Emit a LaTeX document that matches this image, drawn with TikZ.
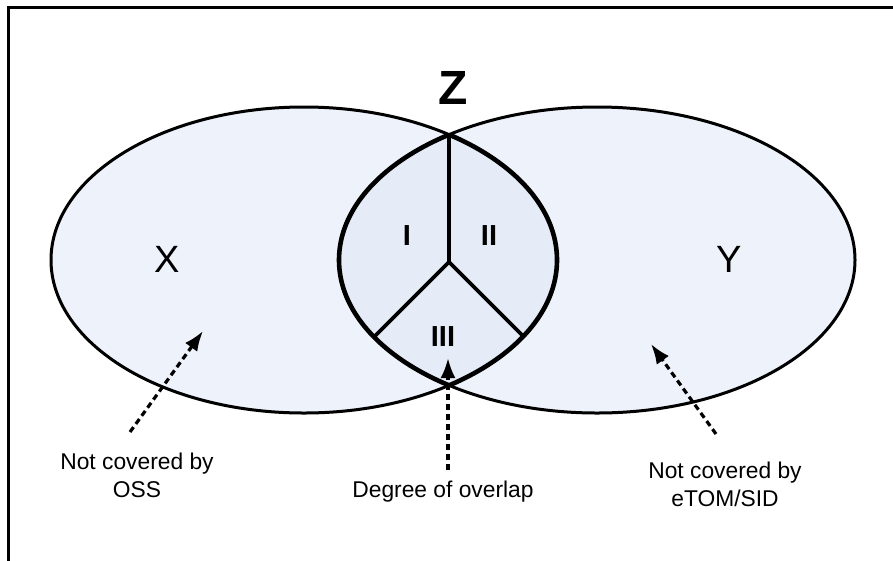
\documentclass[tikz,border=0pt]{standalone}
\usepackage{fontspec}
\setmainfont{Liberation Sans}
\usetikzlibrary{positioning, arrows.meta}
\definecolor{mengeblau}{HTML}{EEF2FA}
\definecolor{schnittblau}{HTML}{E6ECF7}

\begin{document}
\begin{tikzpicture}[x=1pt, y=-1pt, >={Latex[length=20pt, width=15pt]},
    umriss/.style={line width=3pt},
    schnitt/.style={line width=4.6pt},
    teiler/.style={line width=3.6pt},
    hinweis/.style={->, line width=3.2pt, dash pattern=on 6pt off 4pt},
    zahl/.style={font=\fontsize{29}{32}\selectfont\bfseries},
    menge/.style={font=\fontsize{38}{40}\selectfont},
    erklaerung/.style={font=\fontsize{22.8}{28}\selectfont, align=center}]

    \useasboundingbox (0,0) rectangle (893,560);

    % Rahmen (rechts und unten abgeschnitten)
    \draw[line width=3pt] (8,7) rectangle (920,590);

    % Fuellung der beiden Mengen
    \fill[mengeblau] (304,260) ellipse [x radius=253, y radius=153];
    \fill[mengeblau] (597,260) ellipse [x radius=258, y radius=153];

    % Schnittmenge mit Unterteilung
    \begin{scope}
        \clip (304,260) ellipse [x radius=253, y radius=153];
        \fill[schnittblau] (597,260) ellipse [x radius=258, y radius=153];
        \draw[schnitt] (597,260) ellipse [x radius=258, y radius=153];
        \clip (597,260) ellipse [x radius=258, y radius=153];
        \coordinate (mitte) at (449,262);
        \draw[teiler] (mitte) -- ++(0,-160);
        \draw[teiler] (mitte) -- ++(-120,120);
        \draw[teiler] (mitte) -- ++(120,120);
    \end{scope}
    \begin{scope}
        \clip (597,260) ellipse [x radius=258, y radius=153];
        \draw[schnitt] (304,260) ellipse [x radius=253, y radius=153];
    \end{scope}

    % Umrisse der Mengen
    \draw[umriss] (304,260) ellipse [x radius=253, y radius=153];
    \draw[umriss] (597,260) ellipse [x radius=258, y radius=153];

    % Beschriftungen der Mengen
    \node[font=\fontsize{48}{50}\selectfont\bfseries] (z) at (453,88) {Z};
    \node[menge] (x) at (167,259) {X};
    \node[menge] (y) at (729,259) {Y};

    % Teilbereiche der Schnittmenge
    \node[zahl] (eins) at (407,236) {I};
    \node[zahl] (zwei) at (489,236) {II};
    \node[zahl] (drei) at (443,337) {III};

    % Erklaerungen unten
    \node[erklaerung] (oss) at (137,475) {Not covered by\\OSS};
    \node[erklaerung, anchor=base] (grad) at (443,497) {Degree of overlap};
    \node[erklaerung] (etom) at (725,484) {Not covered by\\eTOM/SID};

    % Hinweispfeile
    \coordinate (ossfuss) at (130,432);
    \coordinate (ossspitze) at (203,331);
    \coordinate (gradfuss) at (448,470);
    \coordinate (gradspitze) at (448,358);
    \coordinate (etomfuss) at (716,434);
    \coordinate (etomspitze) at (651,344);
    \draw[hinweis] (ossfuss) -- (ossspitze);
    \draw[hinweis] (gradfuss) -- (gradspitze);
    \draw[hinweis] (etomfuss) -- (etomspitze);

\end{tikzpicture}
\end{document}
